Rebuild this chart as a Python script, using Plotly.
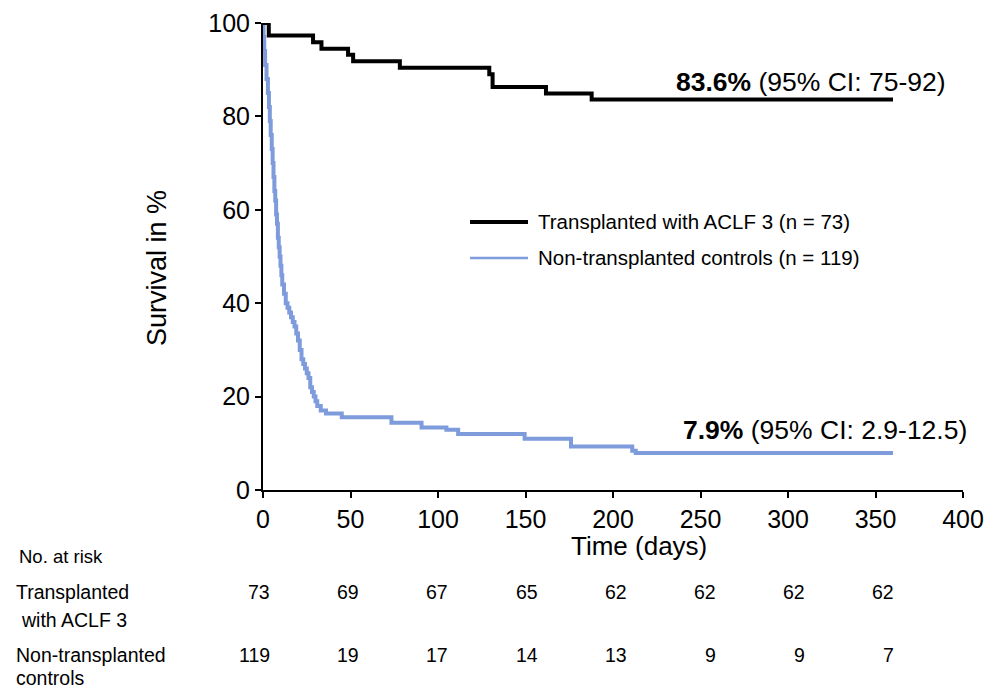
import plotly.graph_objects as go

# ---------------- data ----------------
tx_days = [0, 3.3, 28.6, 33.4, 48.6, 51.5, 78.2, 129.3, 131.2, 161.7, 187.8, 360]
tx_surv = [100, 97.3, 95.9, 94.5, 93.2, 91.8, 90.4, 89.0, 86.3, 84.9, 83.6, 83.6]

ctrl_days = [0, 0.3, 0.7, 1.2, 2.0, 2.8, 3.4, 3.9, 4.4, 5.0, 5.5, 6.0, 6.5, 7.0, 7.5, 8.0,
             8.5, 9.0, 9.5, 10.0, 10.5, 11.0, 12, 13, 14, 15, 16, 17, 18, 19, 20, 21, 22,
             23, 24, 25, 26, 27, 28, 29, 30, 31, 33, 36, 45, 73.4, 90.6, 104.8, 111.5,
             149.5, 176, 211, 213, 360]
ctrl_surv = [100, 97, 94, 91, 88, 85, 82, 79, 76, 73, 70, 67, 64, 62, 59, 57,
             54, 52, 50, 48, 46, 44, 42, 40, 39, 38, 37, 36, 35, 33.5, 32, 30, 28,
             27, 26, 25, 24, 22, 21, 20, 19, 18, 17, 16.4, 15.6, 14.4, 13.4, 12.9, 12.0,
             11.0, 9.3, 8.4, 7.9, 7.9]

risk_times = [0, 50, 100, 150, 200, 250, 300, 350]
risk_tx = [73, 69, 67, 65, 62, 62, 62, 62]
risk_ctrl = [119, 19, 17, 14, 13, 9, 9, 7]

x_ticks = [0, 50, 100, 150, 200, 250, 300, 350, 400]
y_ticks = [0, 20, 40, 60, 80, 100]

tx_name = "Transplanted with ACLF 3 (n = 73)"
ctrl_name = "Non-transplanted controls (n = 119)"
tx_label = "<b>83.6%</b> (95% CI: 75-92)"
ctrl_label = "<b>7.9%</b> (95% CI: 2.9-12.5)"

# ---------------- style ----------------
FONT = "Liberation Sans, Arial, Helvetica, sans-serif"
BLUE = "#7E9BDB"
W_FIG, H_FIG = 987, 690
L, T, PW, PH = 263, 23, 700, 467


def px(x):
    return (x - L) / PW


def py(y):
    return (T + PH - y) / PH


fig = go.Figure()
fig.add_trace(go.Scatter(x=ctrl_days, y=ctrl_surv, mode="lines", line_shape="hv",
                         line=dict(color=BLUE, width=4), showlegend=False,
                         name=ctrl_name))
fig.add_trace(go.Scatter(x=tx_days, y=tx_surv, mode="lines", line_shape="hv",
                         line=dict(color="black", width=4), showlegend=False,
                         name=tx_name))

ann = []
ann.append(dict(text="Survival in %", x=px(157), y=py(268), xref="paper", yref="paper",
                textangle=-90, showarrow=False, font=dict(size=27, color="black"),
                xanchor="center", yanchor="middle"))
ann.append(dict(text="Time (days)", x=px(639), y=py(546), xref="paper", yref="paper",
                showarrow=False, font=dict(size=26, color="black"),
                xanchor="center", yanchor="middle"))
ann.append(dict(text=tx_label, x=px(948), y=py(82), xref="paper", yref="paper",
                showarrow=False, font=dict(size=26.5, color="black"),
                xanchor="right", yanchor="middle"))
ann.append(dict(text=ctrl_label, x=px(969), y=py(430), xref="paper", yref="paper",
                showarrow=False, font=dict(size=26.5, color="black"),
                xanchor="right", yanchor="middle"))
# manual legend
ann.append(dict(text=tx_name, x=px(536), y=py(221), xref="paper", yref="paper",
                showarrow=False, font=dict(size=20.5, color="black"),
                xanchor="left", yanchor="middle"))
ann.append(dict(text=ctrl_name, x=px(536), y=py(257), xref="paper", yref="paper",
                showarrow=False, font=dict(size=20.5, color="black"),
                xanchor="left", yanchor="middle"))

shapes = [
    dict(type="line", xref="paper", yref="paper", x0=px(470), x1=px(528),
         y0=py(222), y1=py(222), line=dict(color="black", width=4)),
    dict(type="line", xref="paper", yref="paper", x0=px(470), x1=px(528),
         y0=py(258), y1=py(258), line=dict(color=BLUE, width=2.5)),
]

# number at risk table
ann.append(dict(text="No. at risk", x=px(17), y=py(556), xref="paper", yref="paper",
                showarrow=False, font=dict(size=18.5, color="black"),
                xanchor="left", yanchor="middle"))
for txt, xx, yy in [("Transplanted", 14, 592), ("with ACLF 3", 19, 620),
                    ("Non-transplanted", 14, 655), ("controls", 14, 678)]:
    ann.append(dict(text=txt, x=px(xx), y=py(yy), xref="paper", yref="paper",
                    showarrow=False, font=dict(size=19.5, color="black"),
                    xanchor="left", yanchor="middle"))
for i, t in enumerate(risk_times):
    for vals, yy in [(risk_tx, 592), (risk_ctrl, 655)]:
        ann.append(dict(text=str(vals[i]), x=t, y=py(yy), xref="x", yref="paper",
                        xshift=9 + 1.7 * i, showarrow=False,
                        font=dict(size=19.5, color="black"),
                        xanchor="right", yanchor="middle"))

fig.update_layout(
    width=W_FIG, height=H_FIG,
    margin=dict(l=L, r=W_FIG - L - PW, t=T, b=H_FIG - T - PH, pad=0),
    paper_bgcolor="white", plot_bgcolor="white",
    font=dict(family=FONT, color="black"),
    annotations=ann, shapes=shapes, showlegend=False,
    xaxis=dict(range=[0, 400], tickvals=x_ticks, ticks="outside", ticklen=6,
               tickwidth=2, tickcolor="black", showline=True, linewidth=2,
               linecolor="black", showgrid=False, zeroline=False, automargin=False,
               tickfont=dict(size=25, color="black")),
    yaxis=dict(range=[0, 100], tickvals=y_ticks, ticks="outside", ticklen=6,
               tickwidth=2, tickcolor="black", showline=True, linewidth=2,
               linecolor="black", showgrid=False, zeroline=False, automargin=False,
               tickfont=dict(size=25, color="black")),
)

fig.write_html("out.html", config={"displayModeBar": False},
               post_script="document.body.style.margin='0';document.body.style.overflow='hidden';")
